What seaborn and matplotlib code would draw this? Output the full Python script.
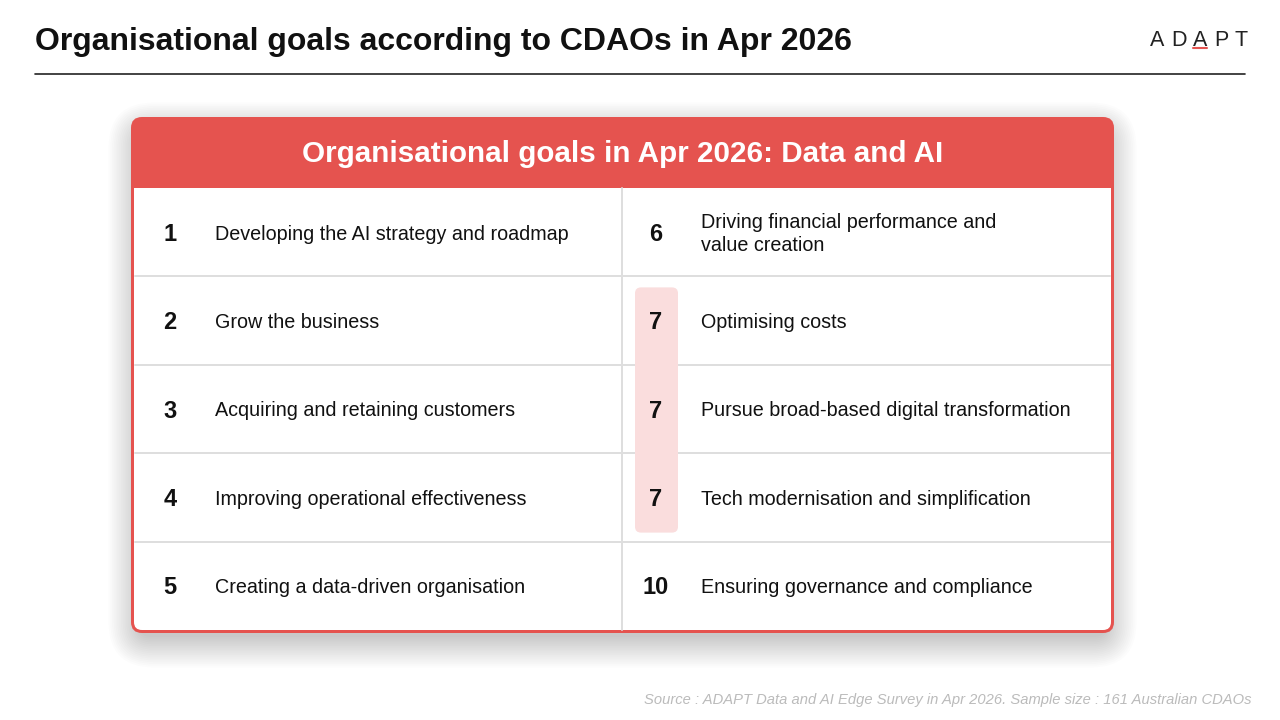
import matplotlib
matplotlib.use("Agg")
import matplotlib.pyplot as plt
from matplotlib.patches import FancyBboxPatch, Rectangle
import seaborn as sns

# data: ranks and goals, left column then right column
left_ranks = ["1", "2", "3", "4", "5"]
left_goals = [
    "Developing the AI strategy and roadmap",
    "Grow the business",
    "Acquiring and retaining customers",
    "Improving operational effectiveness",
    "Creating a data-driven organisation",
]
right_ranks = ["6", "7", "7", "7", "10"]
right_goals = [
    "Driving financial performance and\nvalue creation",
    "Optimising costs",
    "Pursue broad-based digital transformation",
    "Tech modernisation and simplification",
    "Ensuring governance and compliance",
]
tied_rank = "7"

title = "Organisational goals according to CDAOs in Apr 2026"
card_title = "Organisational goals in Apr 2026: Data and AI"
source = "Source : ADAPT Data and AI Edge Survey in Apr 2026. Sample size : 161 Australian CDAOs"

sns.set_theme(style="white")
plt.rcParams["font.family"] = ["Liberation Sans", "DejaVu Sans"]

RED = "#E5534F"
PINK = "#FADDDD"
GRID = "#DEDEDE"

fig = plt.figure(figsize=(12.8, 7.2), dpi=100)
ax = fig.add_axes([0, 0, 1, 1])
ax.set_xlim(0, 1280)
ax.set_ylim(720, 0)
ax.axis("off")

# page header
ax.text(35, 42, title, fontsize=23, fontweight="bold", color="#111111", va="center", ha="left")
ax.plot([35, 1245], [74, 74], color="#222222", lw=1.2)
logo_x = [1157, 1179, 1200, 1221, 1241]
for ch, lx in zip("ADAPT", logo_x):
    ax.text(lx, 40, ch, fontsize=15.5, color="#222222", ha="center", va="center")
ax.plot([1193, 1207], [48, 48], color=RED, lw=1.5)

# card geometry
x0, x1 = 131, 1114
y_top, y_head, y_bot = 117, 188, 633
mid = 622
n_rows = len(left_goals)
row_h = (y_bot - 3 - y_head) / n_rows

# soft shadow, heavier below the card
for i in range(18):
    pad = i * 1.8
    ax.add_patch(FancyBboxPatch((x0 - pad + 8, y_top - pad + 16), (x1 - x0) + 2 * pad - 16,
                                (y_bot - y_top) + 2 * pad - 12,
                                boxstyle="round,pad=0,rounding_size=%d" % (12 + i * 2),
                                fc="#000000", ec="none", alpha=0.012, zorder=1))

# card body
ax.add_patch(FancyBboxPatch((x0, y_top), x1 - x0, y_bot - y_top,
                            boxstyle="round,pad=0,rounding_size=11", fc=RED, ec="none", zorder=2))
ax.add_patch(FancyBboxPatch((x0 + 3, y_top + 30), x1 - x0 - 6, y_bot - 3 - y_top - 30,
                            boxstyle="round,pad=0,rounding_size=8", fc="white", ec="none", zorder=3))
ax.add_patch(Rectangle((x0 + 3, y_top + 10), x1 - x0 - 6, y_head - y_top - 10,
                       fc=RED, ec="none", zorder=4))
ax.text((x0 + x1) / 2, (y_top + y_head) / 2 + 1, card_title, fontsize=21.3, fontweight="bold",
        color="white", ha="center", va="center", zorder=5)

# grid lines
for i in range(1, n_rows):
    y = y_head + i * row_h
    ax.plot([x0 + 4, x1 - 4], [y, y], color=GRID, lw=1.4, zorder=5)
ax.plot([mid, mid], [y_head, y_bot - 3], color=GRID, lw=1.4, zorder=5)

# highlight for tied ranks
tied = [i for i, r in enumerate(right_ranks) if r == tied_rank]
hy0 = y_head + tied[0] * row_h + 11
hy1 = y_head + (tied[-1] + 1) * row_h - 9
ax.add_patch(FancyBboxPatch((635, hy0), 43, hy1 - hy0,
                            boxstyle="round,pad=0,rounding_size=6", fc=PINK, ec="none", zorder=6))

# rows
for i in range(n_rows):
    yc = y_head + (i + 0.5) * row_h + 2
    ax.text(170, yc, left_ranks[i], fontsize=17, fontweight="bold", color="#111111",
            ha="center", va="center", zorder=7)
    ax.text(215, yc, left_goals[i], fontsize=14.2, color="#111111", ha="left", va="center", zorder=7)
    ax.text(656, yc, right_ranks[i], fontsize=17, fontweight="bold", color="#111111",
            ha="center", va="center", zorder=7)
    ax.text(701, yc, right_goals[i], fontsize=14.2, color="#111111", ha="left", va="center",
            linespacing=1.3, zorder=7)

# footer
ax.text(1252, 700, source, fontsize=10.6, style="italic", color="#BBBBBB", ha="right", va="center")

fig.savefig("out.png", dpi=100, facecolor="white")
